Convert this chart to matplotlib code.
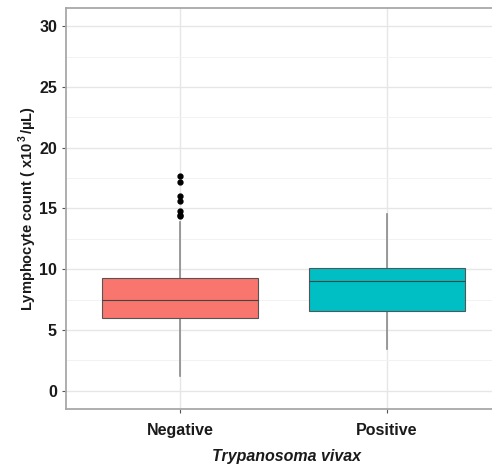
import matplotlib.pyplot as plt
from matplotlib.ticker import MultipleLocator

plt.rcParams['font.family'] = ['Liberation Sans', 'DejaVu Sans']
plt.rcParams['mathtext.fontset'] = 'custom'
plt.rcParams['mathtext.rm'] = 'Liberation Sans'
plt.rcParams['mathtext.bf'] = 'Liberation Sans:bold'

groups = ['Negative', 'Positive']
whisker_low = [1.2, 3.4]
q1 = [5.95, 6.6]
median = [7.5, 9.0]
q3 = [9.3, 10.1]
whisker_high = [13.9, 14.55]
outliers = [[17.7, 17.15, 16.0, 15.65, 14.8, 14.5, 14.35], []]
colors = ['#F8766D', '#00BFC4']

stats = []
for i, g in enumerate(groups):
    stats.append({'label': g, 'whislo': whisker_low[i], 'q1': q1[i], 'med': median[i],
                  'q3': q3[i], 'whishi': whisker_high[i], 'fliers': outliers[i]})

fig = plt.figure(figsize=(4.92, 4.66), dpi=100)
ax = fig.add_axes([66 / 492, 57 / 466, 440 / 492, 401 / 466])

bp = ax.bxp(stats, positions=[1, 2], widths=0.75, patch_artist=True, showcaps=False,
            boxprops=dict(edgecolor='#555555', linewidth=0.8),
            medianprops=dict(color='#444444', linewidth=0.8),
            whiskerprops=dict(color='#8a8a8a', linewidth=1.2),
            flierprops=dict(marker='o', markerfacecolor='black', markeredgecolor='black',
                            markersize=3.5))
for patch, c in zip(bp['boxes'], colors):
    patch.set_facecolor(c)
for w in bp['whiskers']:
    w.set_zorder(1)

ax.set_xlim(0.449, 0.449 + 440 / 207)
ax.set_ylim(-1.5, 31.5)
ax.yaxis.set_major_locator(MultipleLocator(5))
ax.yaxis.set_minor_locator(MultipleLocator(2.5))
ax.grid(True, which='major', color='#e6e6e6', linewidth=1.0)
ax.grid(True, which='minor', axis='y', color='#f2f2f2', linewidth=0.7)
ax.set_axisbelow(True)

for s in ['top', 'bottom', 'left']:
    ax.spines[s].set_color('#a8a8a8')
    ax.spines[s].set_linewidth(1.3)
ax.spines['right'].set_visible(False)

ax.tick_params(axis='both', which='major', length=3, color='#555555', labelsize=11.5,
               labelcolor='#1a1a1a')
ax.tick_params(axis='x', which='major', pad=7)
ax.tick_params(axis='y', which='minor', length=0)
ax.set_xticks([1, 2])
ax.set_xticklabels(groups, fontweight='bold')
for lab in ax.get_yticklabels():
    lab.set_fontweight('bold')

ax.set_ylabel('Lymphocyte count ( x10$^{\\,\\mathbf{3}\\,}$/µL)', fontsize=10.5,
              fontweight='bold', color='#1a1a1a', labelpad=0)
ax.set_xlabel('Trypanosoma vivax', fontsize=11.5, fontweight='bold', style='italic',
              color='#1a1a1a', labelpad=8)

fig.savefig('out.png', dpi=100)
